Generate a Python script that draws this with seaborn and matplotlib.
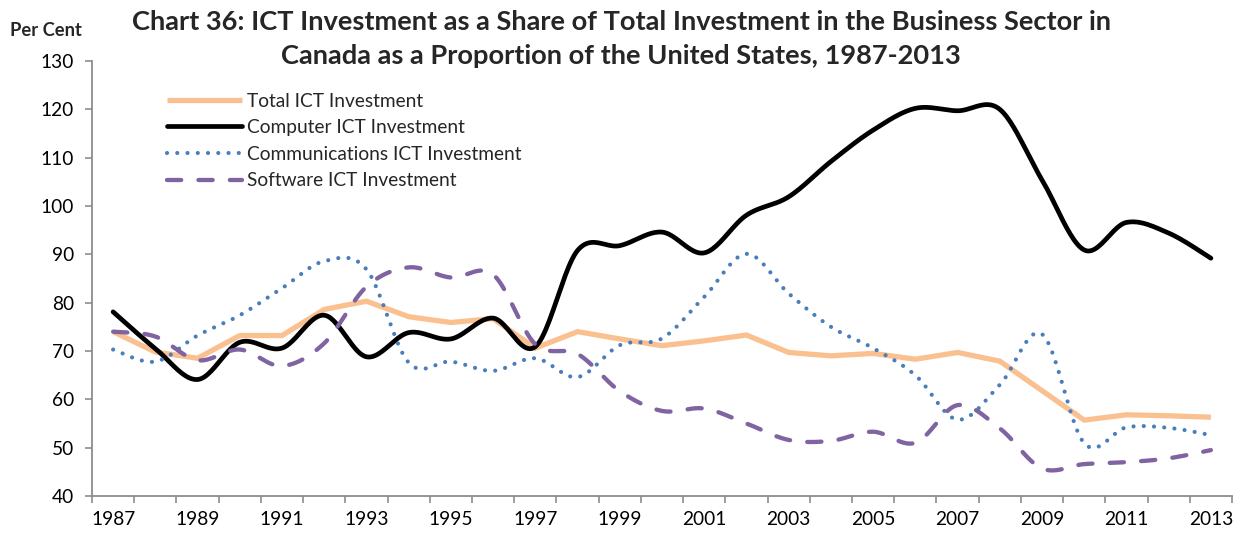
import numpy as np
import pandas as pd
import matplotlib
matplotlib.use("Agg")
import matplotlib.pyplot as plt
import seaborn as sns

years = list(range(1987, 2014))

total_ict = [74.0, 69.8, 68.5, 73.2, 73.2, 78.6, 80.3, 77.1, 75.9, 76.7, 70.6, 74.0, 72.5,
             71.1, 72.1, 73.3, 69.7, 69.0, 69.5, 68.3, 69.7, 67.9, 61.8, 55.7, 56.8, 56.6, 56.3]
computer_ict = [78.1, 70.5, 64.1, 71.8, 70.6, 77.4, 68.8, 73.8, 72.5, 76.8, 70.9, 90.8, 91.8,
                94.6, 90.3, 98.1, 101.9, 109.2, 115.7, 120.2, 119.7, 120.0, 105.4, 90.9, 96.6, 94.4, 89.2]
communications_ict = [70.3, 67.8, 73.2, 77.4, 83.0, 88.6, 86.9, 67.6, 67.8, 65.9, 68.5, 64.6, 71.2,
                      72.6, 81.2, 90.1, 81.9, 75.0, 70.6, 65.0, 55.8, 63.0, 73.5, 50.9, 54.2, 54.1, 52.6]
software_ict = [74.0, 73.0, 68.1, 70.3, 66.9, 71.6, 83.3, 87.3, 85.2, 85.8, 71.4, 69.4, 61.7,
                57.6, 58.1, 55.0, 51.6, 51.4, 53.3, 51.0, 58.8, 54.0, 45.7, 46.6, 47.0, 47.8, 49.5]

series_names = ["Total ICT Investment", "Computer ICT Investment",
                "Communications ICT Investment", "Software ICT Investment"]


def smooth(xs, ys, steps=24):
    """Cubic Bezier smoothing through every point (Catmull-Rom style tangents)."""
    xs = np.asarray(xs, float)
    ys = np.asarray(ys, float)
    n = len(xs)
    out_x, out_y = [], []
    t = np.linspace(0, 1, steps, endpoint=False)
    for i in range(n - 1):
        p0 = np.array([xs[max(i - 1, 0)], ys[max(i - 1, 0)]])
        p1 = np.array([xs[i], ys[i]])
        p2 = np.array([xs[i + 1], ys[i + 1]])
        p3 = np.array([xs[min(i + 2, n - 1)], ys[min(i + 2, n - 1)]])
        c1 = p1 + (p2 - p0) / 6.0
        c2 = p2 - (p3 - p1) / 6.0
        b = ((1 - t) ** 3)[:, None] * p1 + (3 * (1 - t) ** 2 * t)[:, None] * c1 \
            + (3 * (1 - t) * t ** 2)[:, None] * c2 + (t ** 3)[:, None] * p2
        out_x.extend(b[:, 0])
        out_y.extend(b[:, 1])
    out_x.append(xs[-1])
    out_y.append(ys[-1])
    return np.array(out_x), np.array(out_y)


sns.set_theme(style="white")
plt.rcParams["font.family"] = ["Lato", "DejaVu Sans"]

fig = plt.figure(figsize=(12.39, 5.33), dpi=100)
ax = fig.add_axes([92 / 1239, 37 / 533, 1140 / 1239, 435 / 533])

pos = np.arange(len(years))

# Total: straight segments
df_total = pd.DataFrame({"x": pos, "y": total_ict})
sns.lineplot(data=df_total, x="x", y="y", ax=ax, color="#FAC090", linewidth=3.8,
             label=series_names[0], solid_capstyle="butt", solid_joinstyle="miter")

# Computer: smoothed
sx, sy = smooth(pos, computer_ict)
sns.lineplot(x=sx, y=sy, ax=ax, sort=False, estimator=None, color="black",
             linewidth=3.4, label=series_names[1], solid_capstyle="round")

# Communications: smoothed, dotted
sx, sy = smooth(pos, communications_ict)
sns.lineplot(x=sx, y=sy, ax=ax, sort=False, estimator=None, color="#4A7EBB",
             linewidth=3.0, linestyle=(0, (0.01, 2.45)), dash_capstyle="round",
             label=series_names[2])

# Software: smoothed, dashed
sx, sy = smooth(pos, software_ict)
sns.lineplot(x=sx, y=sy, ax=ax, sort=False, estimator=None, color="#8064A2",
             linewidth=3.1, linestyle=(0, (3.3, 4.0)), dash_capstyle="round",
             label=series_names[3])

ax.set_xlim(-0.5, len(years) - 0.5)
ax.set_ylim(40, 130)
ax.set_xlabel("")
ax.set_ylabel("")

# category boundaries carry the tick marks, labels sit in the middle of each category
ax.set_xticks(np.arange(-0.5, len(years), 1.0))
ax.set_xticklabels([])
ax.set_xticks(pos[::2], minor=True)
ax.set_xticklabels([str(y) for y in years[::2]], minor=True)
ax.tick_params(axis="x", which="major", length=5, width=1.2, color="#8C8C8C", direction="out", bottom=True)
ax.tick_params(axis="x", which="minor", length=0, labelsize=13.8, pad=11, colors="black", bottom=True)
ax.set_yticks(np.arange(40, 131, 10))
ax.tick_params(axis="y", length=5, width=1.2, color="#8C8C8C", direction="out", left=True,
               labelsize=13.8, pad=8, labelcolor="black")

for side in ["top", "right"]:
    ax.spines[side].set_visible(False)
for side in ["left", "bottom"]:
    ax.spines[side].set_color("#8C8C8C")
    ax.spines[side].set_linewidth(1.3)
ax.grid(False)

leg = ax.legend(loc="upper left", bbox_to_anchor=(0.059, 0.945), frameon=False,
                handlelength=3.9, handletextpad=0.3, labelspacing=0.5, fontsize=13.8,
                borderaxespad=0)

fig.text(621 / 1239, 1 - 22 / 533,
         "Chart 36: ICT Investment as a Share of Total Investment in the Business Sector in",
         ha="center", va="center", fontsize=19.6, fontweight="bold")
fig.text(621 / 1239, 1 - 56 / 533,
         "Canada as a Proportion of the United States, 1987-2013",
         ha="center", va="center", fontsize=19.6, fontweight="bold")
fig.text(10 / 1239, 1 - 30 / 533, "Per Cent", ha="left", va="center",
         fontsize=13.2, fontweight="bold")

fig.savefig("out.png", dpi=100)
